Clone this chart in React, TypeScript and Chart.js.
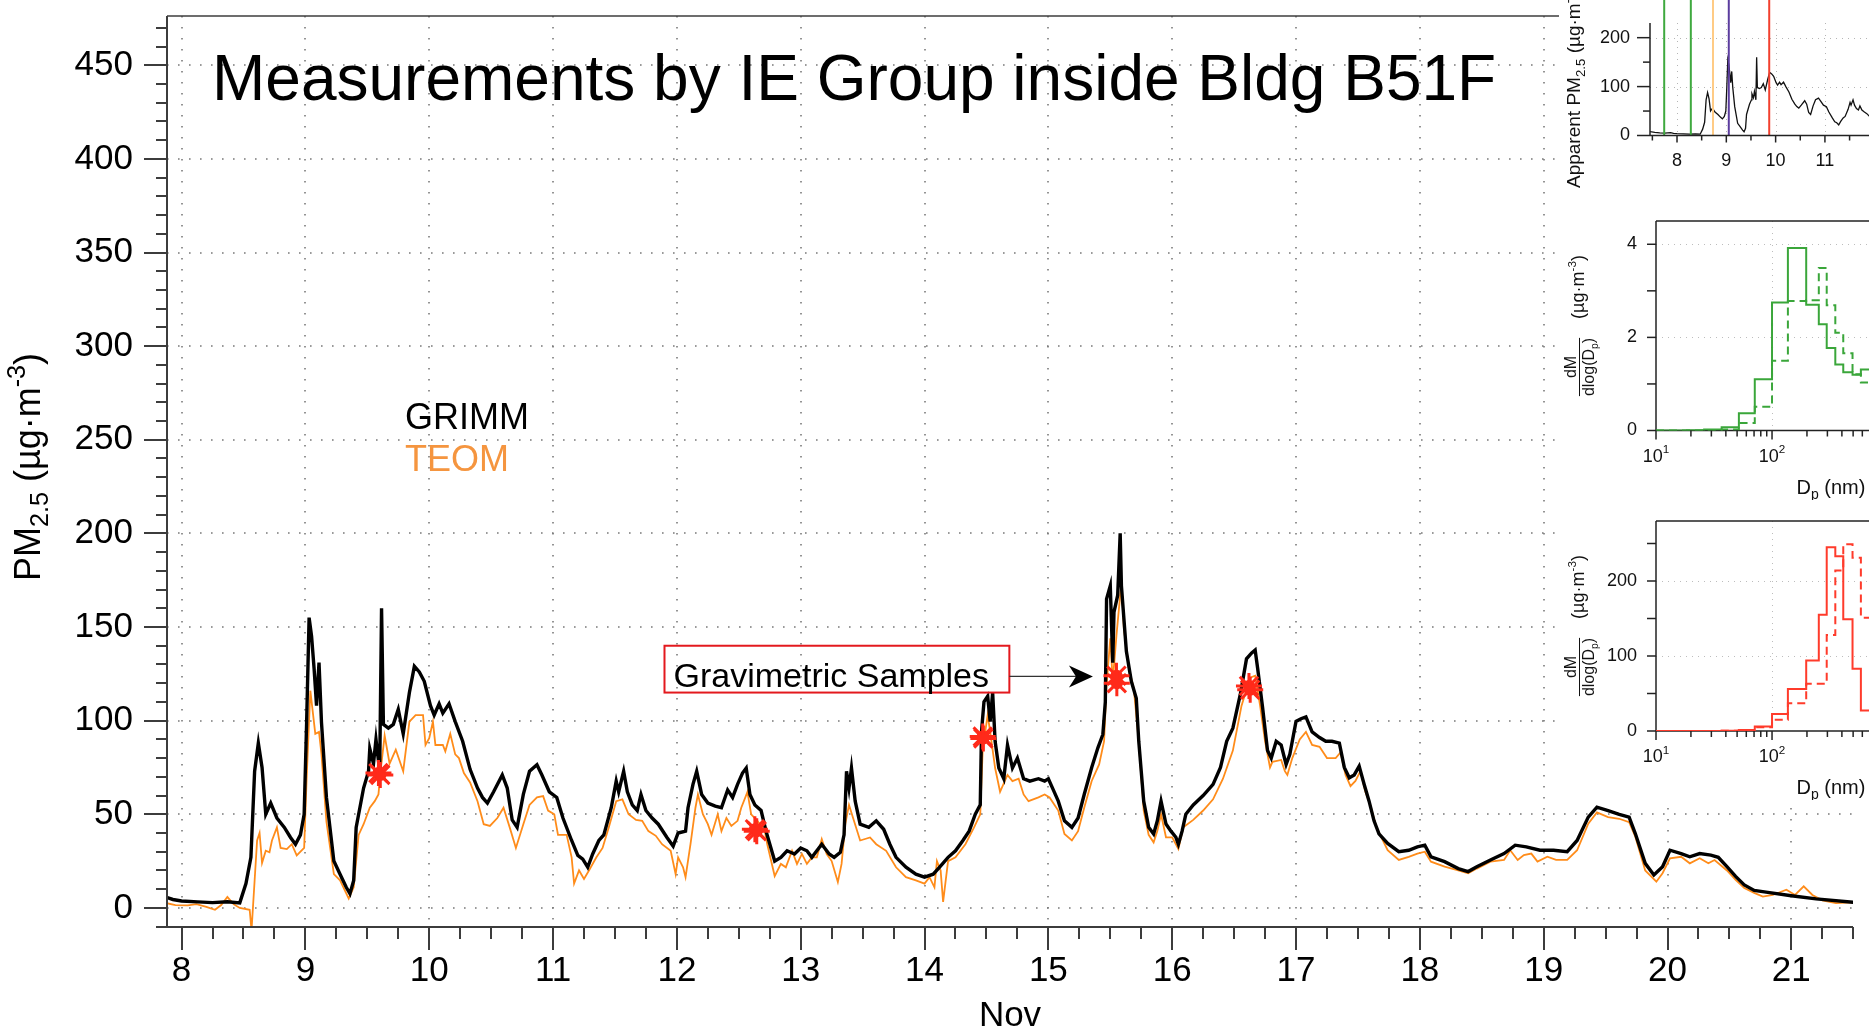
import React, { useEffect, useRef } from 'react';
import { Chart, registerables } from 'chart.js';

Chart.register(...registerables);

const FONT = '"Liberation Sans", Arial, Helvetica, sans-serif';

// ---------------- data ----------------
// GRIMM apparent PM2.5 (day of November, value)
const grimmT = [
  7.45, 7.55, 7.65, 7.75, 7.87, 7.93, 8.0, 8.13, 8.25, 8.37,
  8.47, 8.52, 8.56, 8.59, 8.62, 8.65, 8.68, 8.72, 8.77, 8.83,
  8.88, 8.92, 8.96, 8.99, 9.01, 9.03, 9.05, 9.07, 9.09, 9.11,
  9.13, 9.17, 9.23, 9.28, 9.33, 9.36, 9.39, 9.41, 9.47, 9.51,
  9.52, 9.55, 9.57, 9.6, 9.615, 9.63, 9.67, 9.71, 9.75, 9.79,
  9.84, 9.88, 9.92, 9.96, 10.01, 10.04, 10.08, 10.11, 10.16, 10.21,
  10.27, 10.33, 10.39, 10.43, 10.47, 10.52, 10.59, 10.63, 10.67, 10.71,
  10.76, 10.81, 10.87, 10.91, 10.97, 11.03, 11.08, 11.15, 11.2, 11.24,
  11.28, 11.32, 11.37, 11.41, 11.47, 11.51, 11.53, 11.57, 11.6, 11.64,
  11.68, 11.71, 11.75, 11.8, 11.85, 11.92, 11.97, 12.01, 12.07, 12.09,
  12.13, 12.16, 12.2, 12.25, 12.31, 12.36, 12.41, 12.45, 12.49, 12.53,
  12.56, 12.59, 12.63, 12.68, 12.72, 12.79, 12.84, 12.89, 12.95, 13.0,
  13.05, 13.09, 13.13, 13.17, 13.23, 13.27, 13.32, 13.35, 13.37, 13.39,
  13.41, 13.44, 13.48, 13.55, 13.61, 13.67, 13.72, 13.77, 13.85, 13.93,
  14.0, 14.07, 14.12, 14.19, 14.25, 14.31, 14.36, 14.41, 14.45, 14.46,
  14.48, 14.51, 14.53, 14.55, 14.57, 14.6, 14.64, 14.67, 14.71, 14.75,
  14.8, 14.85, 14.92, 14.97, 15.0, 15.04, 15.08, 15.13, 15.19, 15.24,
  15.29, 15.35, 15.4, 15.44, 15.46, 15.47, 15.5, 15.52, 15.53, 15.56,
  15.58, 15.59, 15.63, 15.67, 15.71, 15.73, 15.77, 15.81, 15.85, 15.88,
  15.91, 15.95, 15.99, 16.03, 16.05, 16.08, 16.11, 16.17, 16.25, 16.33,
  16.39, 16.44, 16.49, 16.55, 16.6, 16.64, 16.67, 16.69, 16.73, 16.77,
  16.8, 16.84, 16.88, 16.92, 16.95, 17.0, 17.04, 17.08, 17.13, 17.19,
  17.24, 17.29, 17.35, 17.39, 17.43, 17.47, 17.51, 17.55, 17.59, 17.63,
  17.67, 17.74, 17.83, 17.91, 17.98, 18.04, 18.09, 18.2, 18.31, 18.39,
  18.46, 18.57, 18.68, 18.77, 18.86, 18.97, 19.08, 19.19, 19.27, 19.36,
  19.43, 19.52, 19.61, 19.69, 19.74, 19.82, 19.89, 19.96, 20.02, 20.11,
  20.18, 20.26, 20.35, 20.41, 20.48, 20.55, 20.62, 20.7, 20.81, 21.0,
  21.2, 21.5,
];
const grimmV = [
  8, 6.5, 5.5, 5, 5.8, 4.5, 3.7, 3.2, 2.8, 3.3,
  2.7, 13, 27, 73, 88, 75, 50, 56, 48, 43,
  37.6, 34, 39, 50, 99, 155, 145, 128, 108, 131,
  99, 59, 25, 18, 11, 7.6, 14.7, 43, 64, 73,
  85, 77, 90, 73, 160, 98, 96, 98, 106, 93,
  115, 129, 126, 121, 108, 103, 109, 104, 109, 99.5,
  89, 74, 64, 59, 56, 62, 71, 64, 47, 43,
  60.6, 73, 76.5, 71, 62, 59, 48, 36, 28, 26,
  21.7, 28.8, 36, 39, 53.5, 67.7, 62, 73, 62, 55,
  52, 60.6, 52, 48, 44.7, 37.6, 33, 40, 41, 53.5,
  66, 73, 60.6, 56, 54.4, 53.5, 63, 59, 66, 72,
  74.7, 60.6, 55, 52, 41, 25, 27, 30.5, 28.8, 32,
  30.5, 27, 30.5, 34, 28.8, 27, 29.7, 39, 73, 64,
  74.7, 57, 44.7, 43, 46.5, 42, 34, 27, 21.7, 18,
  16.4, 18, 21.7, 27, 30.5, 36, 41, 50, 55, 94,
  110, 113, 99.5, 115, 89, 74.7, 69, 87, 74.7, 80,
  69, 67.7, 69, 67.7, 69, 63, 57, 46.5, 43, 48,
  60.7, 75, 85.5, 92.6, 110, 165, 172, 131, 158, 167,
  200, 172, 137, 121, 112, 89, 57, 43, 39.5, 46.5,
  57, 44.8, 41, 37.7, 34, 41, 50, 55, 60, 66,
  75, 89, 96, 114, 133, 136, 137.7, 128, 107, 84,
  80, 89, 87, 76.6, 82, 99.6, 101, 102, 94, 91,
  89, 89, 88, 75, 69.5, 71, 75.7, 66, 57, 46.5,
  39.5, 34.4, 30, 30.8, 32.6, 33.5, 27.3, 24.7, 21, 19.4,
  22, 25.6, 29, 33.5, 32.6, 30.8, 30.8, 30, 36, 48.5,
  53.8, 52, 50, 48.5, 39.7, 23.8, 17.6, 22, 30.8, 29,
  27.3, 29, 28.2, 27, 22, 16.8, 12.3, 9.3, 8.3, 6.5,
  4.8, 3,
];

// TEOM PM2.5
const teomT = [
  7.867, 7.95, 8.05, 8.12, 8.2, 8.27, 8.32, 8.37, 8.42, 8.47,
  8.55, 8.565, 8.59, 8.61, 8.63, 8.65, 8.68, 8.71, 8.73, 8.77,
  8.8, 8.85, 8.89, 8.93, 8.99, 9.01, 9.04, 9.08, 9.11, 9.13,
  9.17, 9.23, 9.28, 9.35, 9.39, 9.43, 9.47, 9.52, 9.56, 9.59,
  9.61, 9.64, 9.68, 9.73, 9.79, 9.84, 9.89, 9.95, 9.97, 10.0,
  10.03, 10.05, 10.11, 10.13, 10.17, 10.21, 10.24, 10.28, 10.33, 10.39,
  10.44, 10.49, 10.55, 10.6, 10.65, 10.7, 10.76, 10.81, 10.87, 10.92,
  10.96, 11.01, 11.04, 11.11, 11.15, 11.17, 11.21, 11.25, 11.29, 11.35,
  11.4, 11.45, 11.51, 11.56, 11.61, 11.67, 11.72, 11.77, 11.83, 11.88,
  11.95, 11.99, 12.01, 12.05, 12.07, 12.11, 12.15, 12.17, 12.21, 12.25,
  12.28, 12.33, 12.36, 12.4, 12.44, 12.49, 12.52, 12.57, 12.6, 12.65,
  12.71, 12.73, 12.79, 12.84, 12.88, 12.93, 12.97, 13.01, 13.05, 13.09,
  13.13, 13.17, 13.21, 13.25, 13.3, 13.33, 13.36, 13.39, 13.43, 13.48,
  13.56, 13.61, 13.69, 13.77, 13.85, 13.93, 14.0, 14.04, 14.08, 14.1,
  14.13, 14.15, 14.19, 14.25, 14.33, 14.4, 14.45, 14.47, 14.51, 14.53,
  14.57, 14.61, 14.67, 14.71, 14.76, 14.8, 14.84, 14.92, 14.97, 15.01,
  15.05, 15.08, 15.13, 15.19, 15.24, 15.29, 15.35, 15.41, 15.45, 15.47,
  15.5, 15.52, 15.55, 15.59, 15.61, 15.65, 15.69, 15.73, 15.77, 15.81,
  15.85, 15.88, 15.91, 15.95, 16.0, 16.05, 16.09, 16.17, 16.25, 16.33,
  16.41, 16.49, 16.56, 16.63, 16.67, 16.71, 16.75, 16.79, 16.81, 16.88,
  16.91, 16.93, 16.97, 17.03, 17.08, 17.13, 17.19, 17.25, 17.32, 17.36,
  17.4, 17.44, 17.48, 17.52, 17.56, 17.6, 17.65, 17.74, 17.83, 17.91,
  17.98, 18.04, 18.09, 18.2, 18.31, 18.39, 18.46, 18.57, 18.68, 18.73,
  18.79, 18.84, 18.9, 18.95, 19.03, 19.1, 19.19, 19.27, 19.36, 19.43,
  19.52, 19.61, 19.69, 19.74, 19.82, 19.91, 19.96, 20.02, 20.11, 20.18,
  20.26, 20.33, 20.38, 20.48, 20.55, 20.62, 20.7, 20.77, 20.85, 20.96,
  21.03, 21.1, 21.17, 21.25, 21.36, 21.5,
];
const teomV = [
  2.7, 1.5, 1.4, 2, 0.5, -1, 1.5, 5.8, 2, 0,
  -1, -12, 14.6, 36, 40, 24, 30.5, 29.7, 36, 43,
  32, 31.4, 34, 28, 32, 69, 116, 93, 94, 82,
  46, 18, 14.7, 5, 11, 39, 44.7, 53.5, 57, 60.6,
  74.7, 92, 77, 84.5, 73, 99.5, 103, 103, 87, 90.6,
  99.5, 87, 87, 83.6, 93, 82, 80, 72, 67, 57,
  44.7, 43.8, 48, 53.5, 43, 32, 44.7, 55, 59, 59.7,
  52, 50, 39, 39, 27, 13, 20, 15.5, 20, 27,
  32, 43, 57, 58, 50, 47, 46.5, 41, 38.5, 34,
  30.5, 18, 27, 21.7, 16.4, 34, 53.5, 60.6, 50, 44.7,
  39, 50, 41, 48, 43.8, 46.5, 53.5, 62, 50, 46.5,
  41, 34, 17, 23.5, 21.7, 30.5, 23.5, 28.8, 23.5, 27,
  27, 36.7, 28.8, 25, 13.8, 23.5, 44.7, 55, 46.5, 36,
  37.6, 34, 30.5, 21.7, 16.4, 14.7, 13, 16.4, 11, 25,
  20, 3.2, 25, 27, 34, 43, 50, 85, 103, 94,
  74.7, 62, 71, 67.7, 69, 60.6, 57, 59, 60.6, 59,
  55, 52, 39.5, 36, 41, 53.6, 67.8, 76.6, 89, 119,
  144, 121, 145.7, 174, 149, 128, 117, 89, 52, 39,
  35, 41, 50, 37.7, 37.7, 31.5, 43, 47, 52, 58,
  69, 84, 108, 123, 124, 108, 89, 75, 78, 79,
  73, 71, 80, 90, 94, 87, 86, 80, 80, 83,
  71, 65, 67.8, 73, 62, 55, 43, 30.8, 25.6, 27.3,
  29, 30, 24.7, 22, 20, 18.5, 21, 24.7, 25.6, 30.8,
  25.6, 28.2, 29, 24.7, 27.3, 25.6, 25.6, 30.8, 45, 51,
  48.5, 47.6, 45.8, 38, 20, 14, 18.5, 26.5, 27.3, 23.8,
  26.5, 23.8, 25.6, 20, 15, 10.6, 8, 6, 6.9, 9.7,
  6.9, 11.5, 6.9, 4, 2.6, 3,
];

// Gravimetric samples
const gravT = [9.59, 9.605, 12.63, 12.645, 14.47, 14.475, 15.55, 15.553, 16.62, 16.63];
const gravV = [72, 71, 42, 41, 91.5, 90.5, 124, 120, 118.5, 116.5];

const dayTicks = [8, 9, 10, 11, 12, 13, 14, 15, 16, 17, 18, 19, 20, 21];
const pmTicks = [0, 50, 100, 150, 200, 250, 300, 350, 400, 450];

// inset: filter sample times
const filterT = [7.74, 8.28, 8.73, 9.05, 9.87];
const filterColors = ['#3FA93F', '#3FA93F', '#FFCB85', '#5B3C9E', '#F2402E'];
const insetDays = [8, 9, 10, 11];
const insetPmTicks = [0, 100, 200];

// size distributions (bin edges in nm, values per bin)
const dpEdges = [10, 13.5, 18.5, 26, 36.8, 51.8, 71, 100, 137, 197, 253, 296, 351, 411, 494, 583, 720];
const greenSolid = [0, 0, 0.005, 0.02, 0.07, 0.37, 1.1, 2.75, 3.92, 2.7, 2.28, 1.77, 1.42, 1.25, 1.2, 1.31];
const greenDashed = [0, 0, 0, 0.005, 0.02, 0.16, 0.51, 1.5, 2.78, 2.8, 3.49, 2.69, 2.1, 1.66, 1.21, 1.03];
const redSolid = [0, 0, 0, 0, 0.3, 1.5, 6, 22.7, 56, 94, 155, 245, 233, 149, 83, 27.5];
const redDashed = [0, 0, 0, 0, 0.2, 1, 5, 15, 37, 63, 63, 128, 214, 249, 231, 151];
const greenTicks = [0, 2, 4];
const greenMinor = [0, 1, 2, 3, 4];
const redTicks = [0, 100, 200];
const redMinor = [0, 50, 100, 150, 200, 250];
const logMajor = [10, 100];
const logMinor = [20, 30, 40, 50, 60, 70, 80, 90, 200, 300, 400, 500, 600];

// annotation placement (data coordinates)
const noteBox = { x0: 11.9, x1: 14.685, yTop: 140, yBot: 115 };
const arrowTip = { x: 15.36, y: 123.6 };

// ---------------- helpers ----------------
type Seg = { t: string; s?: number; dy?: number };

function richWidth(ctx: CanvasRenderingContext2D, segs: Seg[], size: number) {
  let w = 0;
  for (const g of segs) {
    ctx.font = `${size * (g.s ?? 1)}px ${FONT}`;
    w += ctx.measureText(g.t).width;
  }
  return w;
}

function drawRich(ctx: CanvasRenderingContext2D, segs: Seg[], x: number, y: number, size: number, align = 'left', color = '#000') {
  const w = richWidth(ctx, segs, size);
  let cx = align === 'center' ? x - w / 2 : align === 'right' ? x - w : x;
  ctx.fillStyle = color;
  ctx.textAlign = 'left';
  ctx.textBaseline = 'alphabetic';
  for (const g of segs) {
    ctx.font = `${size * (g.s ?? 1)}px ${FONT}`;
    ctx.fillText(g.t, cx, y + (g.dy ?? 0) * size);
    cx += ctx.measureText(g.t).width;
  }
  return w;
}

function line(ctx: CanvasRenderingContext2D, x1: number, y1: number, x2: number, y2: number) {
  ctx.beginPath();
  ctx.moveTo(x1, y1);
  ctx.lineTo(x2, y2);
  ctx.stroke();
}

function fixedAxis(size: number, horizontal: boolean) {
  return (s: any) => {
    if (horizontal) s.height = size;
    else s.width = size;
    s.paddingTop = 0;
    s.paddingBottom = 0;
    s.paddingLeft = 0;
    s.paddingRight = 0;
  };
}

function pts(ts: number[], vs: number[]) {
  return ts.map((t, i) => ({ x: t, y: vs[i] }));
}

function histPoints(vals: number[]) {
  const p = vals.map((v, i) => ({ x: dpEdges[i], y: v }));
  p.push({ x: dpEdges[vals.length], y: vals[vals.length - 1] });
  return p;
}

// ---------------- main chart ----------------
const mainDeco = {
  id: 'mainDeco',
  beforeDatasetsDraw(chart: any) {
    const { ctx, chartArea: a } = chart;
    const xs = chart.scales.x;
    const ys = chart.scales.y;
    ctx.save();
    ctx.strokeStyle = '#7a7a7a';
    ctx.lineWidth = 1.6;
    ctx.setLineDash([1.6, 9.4]);
    dayTicks.forEach((d) => {
      const p = Math.round(xs.getPixelForValue(d));
      line(ctx, p, a.top, p, a.bottom);
    });
    pmTicks.forEach((v) => {
      const p = Math.round(ys.getPixelForValue(v));
      line(ctx, a.left, p, a.right, p);
    });
    ctx.restore();
  },
  afterDatasetsDraw(chart: any) {
    const { ctx, chartArea: a } = chart;
    const xs = chart.scales.x;
    const ys = chart.scales.y;
    ctx.save();
    ctx.setLineDash([]);
    ctx.strokeStyle = '#3c3c3c';
    ctx.lineWidth = 2;
    for (let v = -10; v <= 470; v += 10) {
      const p = Math.round(ys.getPixelForValue(v));
      const len = v % 50 === 0 ? 23 : 11;
      line(ctx, a.left - len, p, a.left, p);
    }
    for (let d = 8; d <= 21.5001; d += 0.25) {
      const p = Math.round(xs.getPixelForValue(d));
      const len = Math.abs(d - Math.round(d)) < 1e-6 ? 23 : 12;
      line(ctx, p, a.bottom, p, a.bottom + len);
    }
    line(ctx, a.left, a.top, a.left, a.bottom + 1);
    line(ctx, a.left - 1, a.bottom, a.right, a.bottom);
    ctx.lineWidth = 1.5;
    line(ctx, a.left, a.top, a.right, a.top);

    // title + legend
    ctx.fillStyle = '#000';
    ctx.textAlign = 'left';
    ctx.textBaseline = 'alphabetic';
    ctx.font = `64px ${FONT}`;
    ctx.fillText('Measurements by IE Group inside Bldg B51F', 212, 100);
    ctx.font = `36px ${FONT}`;
    ctx.fillText('GRIMM', 405, 429);
    ctx.fillStyle = '#F5953F';
    ctx.fillText('TEOM', 405, 471);

    // annotation box
    const bx0 = xs.getPixelForValue(noteBox.x0);
    const bx1 = xs.getPixelForValue(noteBox.x1);
    const by0 = ys.getPixelForValue(noteBox.yTop);
    const by1 = ys.getPixelForValue(noteBox.yBot);
    ctx.strokeStyle = '#E3191E';
    ctx.lineWidth = 2;
    ctx.strokeRect(bx0, by0, bx1 - bx0, by1 - by0);
    ctx.fillStyle = '#000';
    ctx.font = `34px ${FONT}`;
    ctx.fillText('Gravimetric Samples', bx0 + 9, by1 - 6);
    const ax = xs.getPixelForValue(arrowTip.x);
    const ay = ys.getPixelForValue(arrowTip.y);
    ctx.strokeStyle = '#333';
    ctx.lineWidth = 1.3;
    line(ctx, bx1, ay, ax - 14, ay);
    ctx.fillStyle = '#000';
    ctx.beginPath();
    ctx.moveTo(ax, ay);
    ctx.lineTo(ax - 24, ay - 11);
    ctx.lineTo(ax - 17, ay);
    ctx.lineTo(ax - 24, ay + 11);
    ctx.closePath();
    ctx.fill();

    // y axis title
    ctx.save();
    ctx.translate(40, 467);
    ctx.rotate(-Math.PI / 2);
    drawRich(ctx, [{ t: 'PM' }, { t: '2.5', s: 0.7, dy: 0.22 }, { t: ' (µg·m' }, { t: '-3', s: 0.7, dy: -0.42 }, { t: ')' }], 0, 0, 36, 'center');
    ctx.restore();

    // x axis title
    ctx.fillStyle = '#000';
    ctx.font = `35px ${FONT}`;
    ctx.textAlign = 'center';
    ctx.fillText('Nov', (a.left + a.right) / 2, 1026);
    ctx.restore();
  },
};

function mainConfig(): any {
  return {
    type: 'line',
    data: {
      datasets: [
        {
          label: 'Gravimetric',
          data: pts(gravT, gravV),
          showLine: false,
          pointStyle: 'star',
          pointRadius: 13,
          pointBorderWidth: 3,
          pointBorderColor: '#FF2A1A',
          borderColor: '#FF2A1A',
          pointBackgroundColor: '#FF2A1A',
          clip: false,
        },
        {
          label: 'Gravimetric core',
          data: pts(gravT, gravV),
          showLine: false,
          pointStyle: 'star',
          pointRotation: 22.5,
          pointRadius: 6,
          pointBorderWidth: 2.5,
          pointBorderColor: '#FF2A1A',
          borderColor: '#FF2A1A',
          clip: false,
        },
        {
          label: 'GRIMM',
          data: pts(grimmT, grimmV),
          borderColor: '#000',
          borderWidth: 3.4,
          pointRadius: 0,
          tension: 0,
        },
        {
          label: 'TEOM',
          data: pts(teomT, teomV),
          borderColor: '#FF8C1A',
          borderWidth: 1.8,
          pointRadius: 0,
          tension: 0,
        },
      ],
    },
    options: {
      animation: false,
      responsive: false,
      events: [],
      layout: { padding: { top: 9, right: 0, left: 0, bottom: 0 } },
      plugins: { legend: { display: false }, tooltip: { enabled: false } },
      scales: {
        x: {
          type: 'linear',
          min: 7.8824,
          max: 21.498,
          afterFit: fixedAxis(104, true),
          afterBuildTicks: (s: any) => {
            s.ticks = dayTicks.map((v) => ({ value: v }));
          },
          grid: { display: false, drawTicks: true, tickLength: 23 },
          border: { display: false },
          ticks: { font: { family: FONT, size: 35 }, color: '#000', padding: 0, maxRotation: 0, autoSkip: false },
        },
        y: {
          type: 'linear',
          min: -10.2,
          max: 476.3,
          afterFit: fixedAxis(167, false),
          afterBuildTicks: (s: any) => {
            s.ticks = pmTicks.map((v) => ({ value: v }));
          },
          grid: { display: false, drawTicks: true, tickLength: 23 },
          border: { display: false },
          ticks: { font: { family: FONT, size: 35 }, color: '#000', padding: 11, autoSkip: false },
        },
      },
    },
    plugins: [mainDeco],
  };
}

// ---------------- inset 1: time series ----------------
const inset1Deco = {
  id: 'inset1Deco',
  beforeDatasetsDraw(chart: any) {
    const { ctx, chartArea: a } = chart;
    const xs = chart.scales.x;
    const ys = chart.scales.y;
    ctx.save();
    ctx.strokeStyle = '#b5b5b5';
    ctx.lineWidth = 1;
    ctx.setLineDash([1, 5]);
    insetDays.forEach((d) => {
      const p = Math.round(xs.getPixelForValue(d)) + 0.5;
      line(ctx, p, a.top, p, a.bottom);
    });
    insetPmTicks.filter((v) => v > 0).forEach((v) => {
      const p = Math.round(ys.getPixelForValue(v)) + 0.5;
      line(ctx, a.left, p, a.right, p);
    });
    ctx.restore();
  },
  afterDatasetsDraw(chart: any) {
    const { ctx, chartArea: a } = chart;
    const xs = chart.scales.x;
    const ys = chart.scales.y;
    ctx.save();
    ctx.lineWidth = 2;
    filterT.forEach((t, i) => {
      const p = xs.getPixelForValue(t);
      ctx.strokeStyle = filterColors[i];
      line(ctx, p, a.bottom, p, 0);
    });
    ctx.strokeStyle = '#222';
    ctx.lineWidth = 1.5;
    line(ctx, a.left, a.top, a.left, a.bottom);
    line(ctx, a.left, a.bottom, a.right, a.bottom);
    for (let v = 0; v <= 200; v += 50) {
      const p = ys.getPixelForValue(v);
      const len = v % 100 === 0 ? 13 : 7;
      line(ctx, a.left - len, p, a.left, p);
    }
    for (let d = 7.5; d <= 11.9; d += 0.5) {
      const p = xs.getPixelForValue(d);
      const len = Math.abs(d - Math.round(d)) < 1e-6 ? 7 : 5;
      line(ctx, p, a.bottom, p, a.bottom + len);
    }
    ctx.save();
    ctx.translate(21, 188);
    ctx.rotate(-Math.PI / 2);
    drawRich(ctx, [{ t: 'Apparent PM' }, { t: '2.5', s: 0.7, dy: 0.25 }, { t: ' (µg·m' }, { t: '-3', s: 0.7, dy: -0.42 }, { t: ')' }], 0, 0, 19, 'left', '#111');
    ctx.restore();
    ctx.restore();
  },
};

function inset1Config(): any {
  return {
    type: 'line',
    data: {
      datasets: [
        { data: pts(grimmT, grimmV), borderColor: '#111', borderWidth: 1.3, pointRadius: 0, tension: 0 },
      ],
    },
    options: {
      animation: false,
      responsive: false,
      events: [],
      layout: { padding: { top: 23, right: 0, left: 0, bottom: 0 } },
      plugins: { legend: { display: false }, tooltip: { enabled: false } },
      scales: {
        x: {
          type: 'linear',
          min: 7.452,
          max: 11.894,
          afterFit: fixedAxis(54.5, true),
          afterBuildTicks: (s: any) => {
            s.ticks = insetDays.map((v) => ({ value: v }));
          },
          grid: { display: false, drawTicks: true, tickLength: 7 },
          border: { display: false },
          ticks: { font: { family: FONT, size: 18 }, color: '#111', padding: 8, maxRotation: 0, autoSkip: false },
        },
        y: {
          type: 'linear',
          min: 0,
          max: 230,
          afterFit: fixedAxis(91, false),
          afterBuildTicks: (s: any) => {
            s.ticks = insetPmTicks.map((v) => ({ value: v }));
          },
          grid: { display: false, drawTicks: true, tickLength: 13 },
          border: { display: false },
          ticks: { font: { family: FONT, size: 18 }, color: '#111', padding: 7, autoSkip: false },
        },
      },
    },
    plugins: [inset1Deco],
  };
}

// ---------------- size distribution insets ----------------
function histDeco(id: string, yMinorVals: number[], yGridVals: number[]) {
  return {
    id,
    beforeDatasetsDraw(chart: any) {
      const { ctx, chartArea: a } = chart;
      const xs = chart.scales.x;
      const ys = chart.scales.y;
      ctx.save();
      ctx.strokeStyle = '#bdbdbd';
      ctx.lineWidth = 1;
      ctx.setLineDash([1, 5]);
      const gx = Math.round(xs.getPixelForValue(100)) + 0.5;
      line(ctx, gx, a.top, gx, a.bottom);
      yGridVals.forEach((v) => {
        const p = Math.round(ys.getPixelForValue(v)) + 0.5;
        line(ctx, a.left, p, a.right, p);
      });
      ctx.setLineDash([]);
      ctx.strokeStyle = '#222';
      ctx.lineWidth = 1.5;
      line(ctx, a.left, a.top, a.left, a.bottom);
      line(ctx, a.left, a.bottom, a.right, a.bottom);
      line(ctx, a.left, a.top, a.right, a.top);
      ctx.restore();
    },
    afterDatasetsDraw(chart: any) {
      const { ctx, chartArea: a } = chart;
      const xs = chart.scales.x;
      const ys = chart.scales.y;
      ctx.save();
      ctx.strokeStyle = '#222';
      ctx.lineWidth = 1.5;
      yMinorVals.forEach((v) => {
        const p = ys.getPixelForValue(v);
        line(ctx, a.left - 9, p, a.left, p);
      });
      logMajor.forEach((v) => {
        const p = xs.getPixelForValue(v);
        line(ctx, p, a.bottom, p, a.bottom + 9);
      });
      logMinor.forEach((v) => {
        const p = xs.getPixelForValue(v);
        if (p <= a.right) line(ctx, p, a.bottom, p, a.bottom + 6);
      });
      // log labels
      logMajor.forEach((v, i) => {
        const p = xs.getPixelForValue(v);
        drawRich(ctx, [{ t: '10' }, { t: String(i + 1), s: 0.65, dy: -0.45 }], p, a.bottom + 31, 18, 'center', '#111');
      });
      // x title
      drawRich(ctx, [{ t: 'D' }, { t: 'p', s: 0.7, dy: 0.25 }, { t: ' (nm)' }], a.right - 38, a.bottom + 63, 20, 'center', '#111');
      // y title (fraction + units), rotated
      ctx.save();
      ctx.translate(20, a.top + 146);
      ctx.rotate(-Math.PI / 2);
      drawRich(ctx, [{ t: 'dM' }], 0, -3, 16, 'center', '#111');
      const den: Seg[] = [{ t: 'dlog(D' }, { t: 'p', s: 0.65, dy: 0.25 }, { t: ')' }];
      const w = drawRich(ctx, den, 0, 15, 16, 'center', '#111');
      ctx.strokeStyle = '#111';
      ctx.lineWidth = 1;
      line(ctx, -w / 2, 0.5, w / 2, 0.5);
      drawRich(ctx, [{ t: '(µg·m' }, { t: '-3', s: 0.65, dy: -0.45 }, { t: ')' }], 80, 5, 18, 'center', '#111');
      ctx.restore();
      ctx.restore();
    },
  };
}

function histConfig(solid: number[], dashed: number[], color: string, yMax: number, yLabelTicks: number[], yMinorVals: number[], yGridVals: number[], bottomH: number, id: string): any {
  return {
    type: 'line',
    data: {
      datasets: [
        { data: histPoints(solid), stepped: true, borderColor: color, borderWidth: 2, pointRadius: 0 },
        { data: histPoints(dashed), stepped: true, borderColor: color, borderWidth: 2, borderDash: [8, 5], pointRadius: 0 },
      ],
    },
    options: {
      animation: false,
      responsive: false,
      events: [],
      layout: { padding: { top: 21, right: 0, left: 0, bottom: 0 } },
      plugins: { legend: { display: false }, tooltip: { enabled: false } },
      scales: {
        x: {
          type: 'logarithmic',
          min: 10,
          max: 685,
          afterFit: fixedAxis(bottomH, true),
          grid: { display: false, drawTicks: false },
          border: { display: false },
          ticks: { display: false },
        },
        y: {
          type: 'linear',
          min: 0,
          max: yMax,
          afterFit: fixedAxis(97, false),
          afterBuildTicks: (s: any) => {
            s.ticks = yLabelTicks.map((v) => ({ value: v }));
          },
          grid: { display: false, drawTicks: true, tickLength: 9 },
          border: { display: false },
          ticks: { font: { family: FONT, size: 18 }, color: '#111', padding: 10, autoSkip: false },
        },
      },
    },
    plugins: [histDeco(id, yMinorVals, yGridVals)],
  };
}

// ---------------- component ----------------
export default function App() {
  const mainRef = useRef<HTMLCanvasElement>(null);
  const i1Ref = useRef<HTMLCanvasElement>(null);
  const i2Ref = useRef<HTMLCanvasElement>(null);
  const i3Ref = useRef<HTMLCanvasElement>(null);

  useEffect(() => {
    document.body.style.margin = '0';
    const charts = [
      new Chart(mainRef.current as HTMLCanvasElement, mainConfig()),
      new Chart(i1Ref.current as HTMLCanvasElement, inset1Config()),
      new Chart(i2Ref.current as HTMLCanvasElement, histConfig(greenSolid, greenDashed, '#3AA63A', 4.5, greenTicks, greenMinor, [2, 4], 69.5, 'greenDeco')),
      new Chart(i3Ref.current as HTMLCanvasElement, histConfig(redSolid, redDashed, '#FF3B2B', 280, redTicks, redMinor, [100, 200], 69, 'redDeco')),
    ];
    return () => charts.forEach((c) => c.destroy());
  }, []);

  return (
    <div style={{ position: 'relative', width: 1869, height: 1031, overflow: 'hidden', background: '#fff' }}>
      <canvas ref={mainRef} width={1869} height={1031} style={{ position: 'absolute', left: 0, top: 0 }} />
      <div style={{ position: 'absolute', left: 1559, top: 0, width: 310, height: 802, background: '#fff' }} />
      <canvas ref={i1Ref} width={310} height={190} style={{ position: 'absolute', left: 1559, top: 0 }} />
      <canvas ref={i2Ref} width={310} height={300} style={{ position: 'absolute', left: 1559, top: 200 }} />
      <canvas ref={i3Ref} width={310} height={300} style={{ position: 'absolute', left: 1559, top: 500 }} />
    </div>
  );
}
